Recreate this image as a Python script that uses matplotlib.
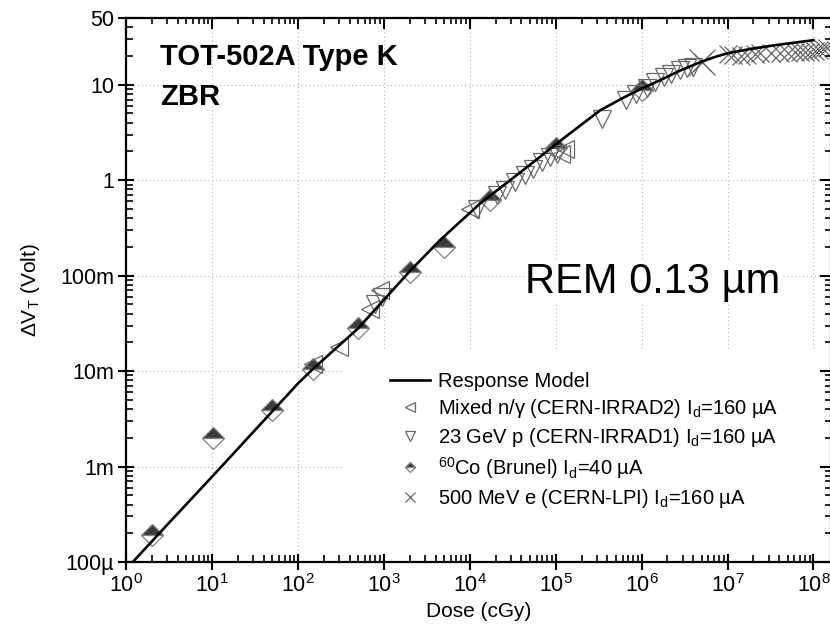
import numpy as np
import matplotlib
matplotlib.use("Agg")
import matplotlib.pyplot as plt
from matplotlib.ticker import FixedLocator, FixedFormatter, LogLocator, NullFormatter, LogFormatterSciNotation
from matplotlib.patches import Rectangle

plt.rcParams['font.family'] = ['Liberation Sans', 'DejaVu Sans']
plt.rcParams['mathtext.fontset'] = 'custom'
plt.rcParams['mathtext.rm'] = 'Liberation Sans'
plt.rcParams['mathtext.it'] = 'Liberation Sans:italic'
plt.rcParams['mathtext.bf'] = 'Liberation Sans:bold'

# response model curve (dose in cGy, dVt in volt)
model_dose = [1.2, 3.16, 10, 31.6, 100, 151, 500, 2000, 4520, 1.32e4, 3.98e4, 1.23e5,
              3.31e5, 6.31e5, 1.0e6, 1.66e6, 2.82e6, 4.79e6, 7.08e6, 1.0e7, 2e7, 3.98e7, 1.0e8]
model_dv = [1e-4, 2.57e-4, 7.8e-4, 2.4e-3, 7.4e-3, 1.06e-2, 2.79e-2, 0.111, 0.236, 0.57, 1.23, 2.74,
            5.41, 7.41, 9.12, 11.2, 14.1, 17.2, 19.5, 21.4, 24.0, 26.3, 29.3]

# mixed n/gamma, CERN-IRRAD2
irr2_dose = [150, 300, 700, 900, 1.0e4, 1.15e5, 1.3e5]
irr2_dv = [0.012, 0.018, 0.045, 0.07, 0.50, 1.9, 2.1]

# 23 GeV p, CERN-IRRAD1
irr1_dose = [800, 950, 1.2e4, 2.1e4, 2.6e4, 3.4e4, 4.4e4, 5.5e4, 6.9e4, 8.6e4, 1.05e5,
             3.5e5, 6.5e5, 8.5e5, 1.15e6, 1.45e6, 1.8e6, 2.2e6, 2.8e6, 3.4e6, 4.0e6]
irr1_dv = [0.05, 0.06, 0.50, 0.70, 0.79, 0.96, 1.13, 1.32, 1.55, 1.75, 1.9,
           4.4, 7.0, 8.0, 9.2, 10.7, 12.1, 13.1, 14.2, 14.8, 15.4]

# 60Co, Brunel
co_dose = [2, 10.4, 50, 150, 500, 2000, 5000, 1.7e4, 1.0e5, 1.0e6]
co_dv = [1.9e-4, 2.0e-3, 3.9e-3, 1.06e-2, 2.8e-2, 0.11, 0.20, 0.62, 2.15, 8.8]

# 500 MeV e, CERN-LPI
lpi_dose = [5e6, 1.0e7, 1.17e7, 1.45e7, 1.7e7, 2.1e7, 2.4e7, 3.2e7, 4.1e7, 5.1e7, 6.1e7,
            7e7, 8e7, 9.2e7, 1.05e8, 1.15e8, 1.3e8, 1.45e8]
lpi_dv = [17.4, 20.8, 20.4, 20.0, 20.4, 21.0, 21.3, 21.3, 21.3, 21.5, 21.8,
          22, 22, 22.3, 22.6, 23, 23.5, 24]

ytick_vals = [1e-4, 1e-3, 1e-2, 0.1, 1, 10, 50]
ytick_labels = ['100µ', '1m', '10m', '100m', '1', '10', '50']

labels = ['Response Model',
          r'Mixed n/γ (CERN-IRRAD2) I$_\mathregular{d}$=160 µA',
          r'23 GeV p (CERN-IRRAD1) I$_\mathregular{d}$=160 µA',
          r'$^\mathregular{60}$Co (Brunel) I$_\mathregular{d}$=40 µA',
          r'500 MeV e (CERN-LPI) I$_\mathregular{d}$=160 µA']

fig = plt.figure(figsize=(8.3, 6.37), dpi=100)
pos = [0.1518, 0.1177, 0.8494, 0.854]
ax = fig.add_axes(pos)
ax.set_xscale('log')
ax.set_yscale('log')
ax.set_xlim(1, 1.6e8)
ax.set_ylim(1e-4, 50)
ax.set_axisbelow(True)
ax.grid(True, which='major', ls=(0, (1, 2.5)), color='#b5b5b5', lw=0.8)
ax.tick_params(which='both', length=0, labelbottom=False, labelleft=False)
for s in ax.spines.values():
    s.set_linewidth(1.6)

# white legend box hides the grid
ax.add_patch(Rectangle((0.308, 0), 0.7, 0.39, transform=ax.transAxes,
                       facecolor='white', edgecolor='none', zorder=0.8))

gray = '#686868'
ax.plot(irr2_dose, irr2_dv, ls='none', marker='<', ms=13, mfc='none', mec=gray,
        mew=0.9, label=labels[1], zorder=2.2)
ax.plot(irr1_dose, irr1_dv, ls='none', marker='v', ms=13, mfc='none', mec=gray,
        mew=0.9, label=labels[2], zorder=2.2)
ax.plot(co_dose, co_dv, ls='none', marker='D', ms=11, fillstyle='top', mfc='#3a3a3a',
        markerfacecoloralt='white', mec='#808080', mew=0.9, label=labels[3], zorder=2.1)
ax.plot(lpi_dose, lpi_dv, ls='none', marker='x', ms=13, mec=gray, mew=0.9,
        label=labels[4], zorder=2.2)
ax.plot(lpi_dose[:1], lpi_dv[:1], ls='none', marker='x', ms=19, mec=gray, mew=0.9, zorder=2.2)
ax.plot(model_dose, model_dv, color='black', lw=1.9, label=labels[0], zorder=3)

h, l = ax.get_legend_handles_labels()
order = [4, 0, 1, 2, 3]
ax.legend([h[i] for i in order], [l[i] for i in order], loc='upper left',
          bbox_to_anchor=(0.374, 0.35), frameon=False, fontsize=14.5, markerscale=0.5,
          handlelength=2.0, handletextpad=0.4, labelspacing=0.3, borderpad=0,
          borderaxespad=0)

# ticks bottom / left
ax2 = fig.add_axes(pos, sharex=ax, sharey=ax)
ax2.patch.set_visible(False)
for s in ax2.spines.values():
    s.set_visible(False)
ax2.xaxis.set_major_locator(LogLocator(base=10, numticks=20))
ax2.xaxis.set_major_formatter(LogFormatterSciNotation())
ax2.xaxis.set_minor_locator(LogLocator(base=10, subs=np.arange(2, 10), numticks=20))
ax2.xaxis.set_minor_formatter(NullFormatter())
ax2.yaxis.set_major_locator(FixedLocator(ytick_vals))
ax2.yaxis.set_major_formatter(FixedFormatter(ytick_labels))
ax2.yaxis.set_minor_locator(LogLocator(base=10, subs=np.arange(2, 10), numticks=20))
ax2.yaxis.set_minor_formatter(NullFormatter())
ax2.tick_params(which='major', direction='inout', length=11, width=1.5,
                top=False, right=False, labelsize=15.5, pad=3)
ax2.tick_params(which='minor', direction='in', length=5, width=1.2, top=False, right=False)
ax2.set_xlabel('Dose (cGy)', fontsize=15, labelpad=4)
ax2.set_ylabel(r'ΔV$_\mathregular{T}$ (Volt)', fontsize=15, labelpad=13)

# ticks top / right
ax3 = fig.add_axes(pos, sharex=ax, sharey=ax)
ax3.patch.set_visible(False)
for s in ax3.spines.values():
    s.set_visible(False)
ax3.tick_params(which='both', direction='in', bottom=False, left=False, top=True,
                right=True, labelbottom=False, labelleft=False)
ax3.tick_params(which='major', length=8, width=1.5)
ax3.tick_params(which='minor', length=4, width=1.2)

fig.text(0.1928, 0.898, 'TOT-502A Type K', fontsize=21, fontweight='bold', va='baseline')
fig.text(0.1928, 0.835, 'ZBR', fontsize=21, fontweight='bold', va='baseline')
fig.text(0.6325, 0.540, 'REM 0.13 µm', fontsize=30, va='baseline',
         bbox=dict(facecolor='white', edgecolor='none', pad=1))

fig.savefig('out.png', dpi=100)
